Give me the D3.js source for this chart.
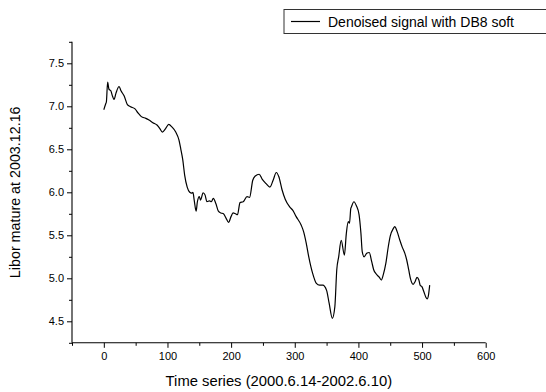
<!DOCTYPE html>
<html>
<head>
<meta charset="utf-8">
<script src="https://cdn.jsdelivr.net/npm/d3@7/dist/d3.min.js"></script>
<style>
  html, body { margin: 0; padding: 0; background: #fff; }
  svg { display: block; font-family: "Liberation Sans", Arial, sans-serif; }
</style>
</head>
<body>
<script>
// Time index of each sample (trading days since 2000.6.14)
const timeIndex = [
  0, 3, 4, 6, 8, 11, 14, 16, 19, 24, 27, 32, 37, 42, 49, 54, 59, 66, 71, 77,
  84, 88, 92, 97, 102, 107, 113, 118, 121, 124, 127, 131, 135, 138, 140, 142, 145, 147, 150, 152,
  156, 159, 162, 166, 169, 172, 176, 180, 184, 188, 192, 196, 200, 203, 207, 210, 214, 219, 225, 229,
  234, 238, 244, 249, 255, 261, 266, 271, 275, 280, 285, 292, 297, 302, 310, 314, 318, 322, 328, 334,
  339, 344, 350, 354, 359, 363, 366, 369, 373, 378, 381, 384, 386, 388, 389, 393, 397, 401, 404, 406,
  409, 413, 417, 421, 424, 428, 433, 436, 439, 443, 447, 450, 455, 457, 461, 465, 469, 473, 476, 479,
  482, 486, 489, 492, 495, 497, 500, 503, 506, 508, 510, 512
];

// Denoised Libor rate (%) at each time index
const liborDenoised = [
  6.96, 7.03, 7.05, 7.28, 7.20, 7.18, 7.11, 7.08, 7.15, 7.23, 7.18, 7.12, 7.02, 6.995, 6.97, 6.92, 6.88, 6.86, 6.84, 6.81,
  6.78, 6.74, 6.70, 6.74, 6.79, 6.76, 6.70, 6.61, 6.50, 6.38, 6.20, 6.06, 6.00, 5.99, 6.00, 5.91, 5.78, 5.89, 5.95, 5.91,
  5.995, 5.97, 5.89, 5.90, 5.89, 5.93, 5.87, 5.78, 5.76, 5.75, 5.70, 5.65, 5.72, 5.76, 5.75, 5.74, 5.88, 5.89, 5.95, 5.94,
  6.14, 6.19, 6.21, 6.15, 6.10, 6.06, 6.14, 6.23, 6.18, 6.03, 5.92, 5.83, 5.79, 5.72, 5.62, 5.54, 5.41, 5.25, 5.06, 4.94,
  4.92, 4.92, 4.86, 4.71, 4.535, 4.67, 5.10, 5.25, 5.44, 5.27, 5.52, 5.66, 5.64, 5.81, 5.83, 5.89, 5.84, 5.74, 5.52, 5.31,
  5.25, 5.29, 5.30, 5.19, 5.10, 5.05, 5.01, 4.98, 5.04, 5.17, 5.37, 5.49, 5.58, 5.60, 5.54, 5.445, 5.36, 5.29, 5.21, 5.10,
  4.99, 4.93, 4.96, 5.01, 4.98, 4.92, 4.90, 4.84, 4.78, 4.76, 4.80, 4.92
];

// Axis tick values
const xTicks = [0, 100, 200, 300, 400, 500, 600];
const yTicks = [4.5, 5.0, 5.5, 6.0, 6.5, 7.0, 7.5];
const xMinorTicks = [-50, 50, 150, 250, 350, 450, 550];
const yMinorTicks = [4.25, 4.75, 5.25, 5.75, 6.25, 6.75, 7.25, 7.75];

const seriesName = "Denoised signal with DB8 soft";
const xTitle = "Time series (2000.6.14-2002.6.10)";
const yTitle = "Libor mature at 2003.12.16";

const W = 546, H = 392;
const plot = { left: 72, right: 485.7, top: 41.8, bottom: 342.8 };

const svg = d3.select("body").append("svg")
  .attr("width", W).attr("height", H);

const x = d3.scaleLinear().domain([-50, 600]).range([plot.left, plot.right]);
const y = d3.scaleLinear().domain([4.25, 7.75]).range([plot.bottom, plot.top]);

// X axis: major ticks with labels, minor ticks in between
const gx = svg.append("g").attr("transform", `translate(0,${plot.bottom})`);
gx.call(d3.axisBottom(x).tickValues(xTicks).tickSize(5).tickPadding(4)
  .tickFormat(d3.format("d")));
gx.append("g").call(d3.axisBottom(x).tickValues(xMinorTicks).tickSize(3).tickFormat(""))
  .select(".domain").remove();

// Y axis
const gy = svg.append("g").attr("transform", `translate(${plot.left},0)`);
gy.call(d3.axisLeft(y).tickValues(yTicks).tickSize(5).tickPadding(3)
  .tickFormat(d3.format(".1f")));
gy.append("g").call(d3.axisLeft(y).tickValues(yMinorTicks).tickSize(3).tickFormat(""))
  .select(".domain").remove();

svg.selectAll(".domain").attr("stroke", "#000").attr("stroke-width", 1.1);
svg.selectAll(".tick line").attr("stroke", "#000").attr("stroke-width", 1);
svg.selectAll(".tick text").attr("font-size", 11).attr("fill", "#000")
  .attr("font-family", "'Liberation Sans', Arial, sans-serif");
// plain axis lines without outer ticks
gx.select(".domain").attr("d", `M${plot.left},0H${plot.right}`);
gy.select(".domain").attr("d", `M0,${plot.bottom}V${plot.top}`);

// Axis titles
svg.append("text")
  .attr("x", (plot.left + plot.right) / 2).attr("y", 386)
  .attr("text-anchor", "middle").attr("font-size", 14.8).attr("fill", "#000")
  .text(xTitle);
svg.append("text")
  .attr("transform", `translate(20,${(plot.top + plot.bottom) / 2}) rotate(-90)`)
  .attr("text-anchor", "middle").attr("font-size", 14.3).attr("fill", "#000")
  .text(yTitle);

// Signal line
const data = timeIndex.map((t, i) => ({ t, v: liborDenoised[i] }));
svg.append("path")
  .datum(data)
  .attr("fill", "none").attr("stroke", "#000").attr("stroke-width", 1.2)
  .attr("stroke-linejoin", "round")
  .attr("d", d3.line().x(d => x(d.t)).y(d => y(d.v)).curve(d3.curveMonotoneX));

// Legend
const lg = svg.append("g");
lg.append("rect")
  .attr("x", 284).attr("y", 9.5).attr("width", 270).attr("height", 24)
  .attr("fill", "#fff").attr("stroke", "#333").attr("stroke-width", 1);
lg.append("line")
  .attr("x1", 291).attr("x2", 320).attr("y1", 21.5).attr("y2", 21.5)
  .attr("stroke", "#000").attr("stroke-width", 1.2);
lg.append("text")
  .attr("x", 328).attr("y", 26.5).attr("font-size", 14).attr("fill", "#000")
  .text(seriesName);
</script>
</body>
</html>
